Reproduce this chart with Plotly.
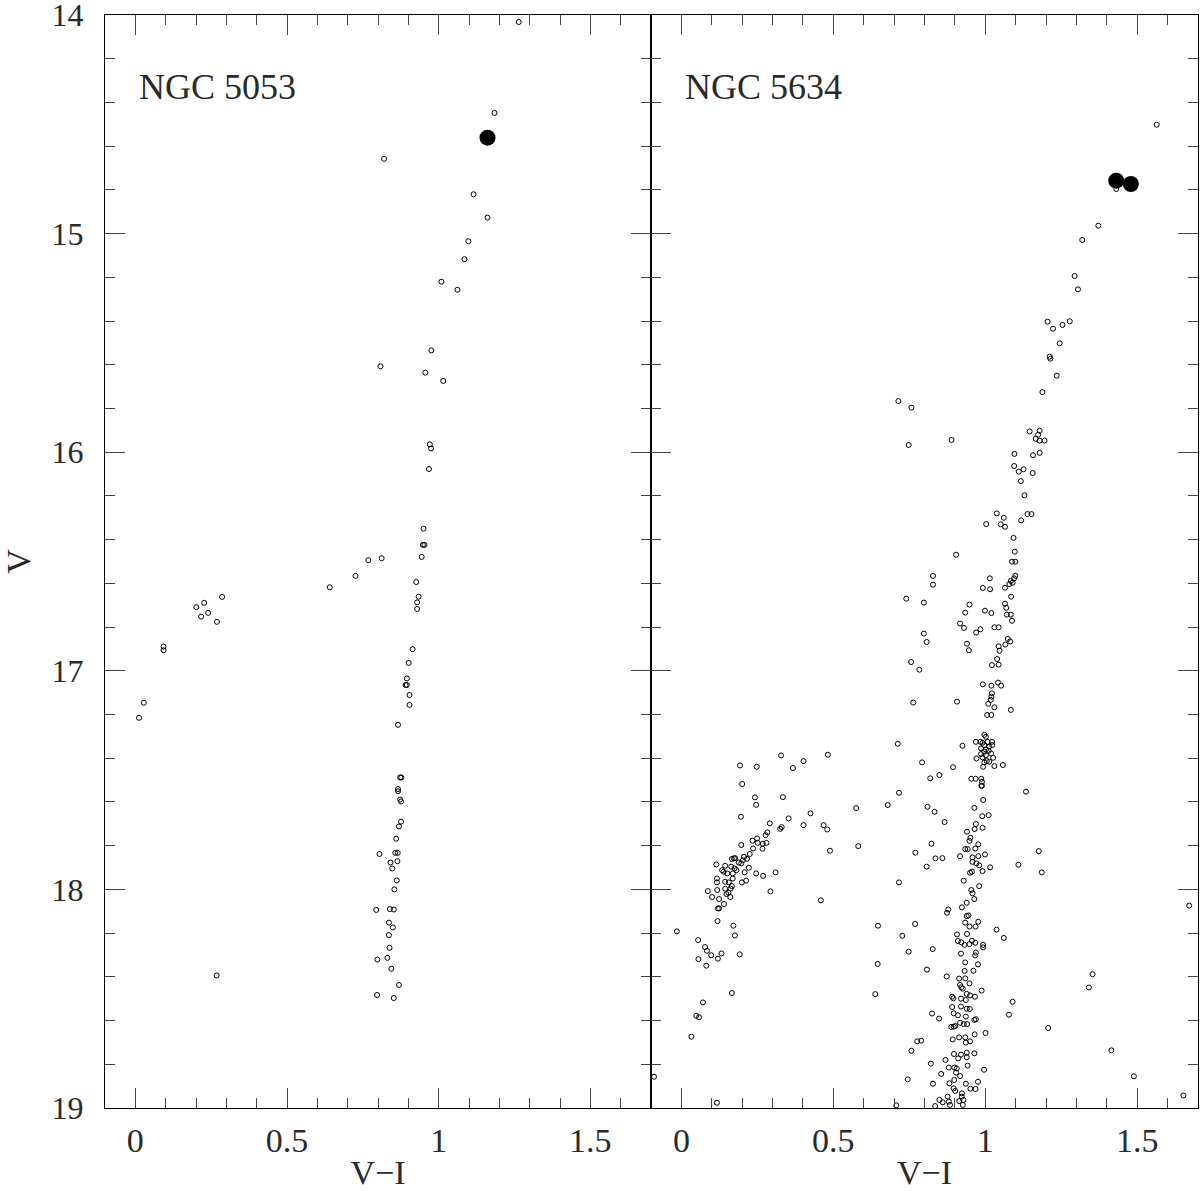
import plotly.graph_objects as go

# ---------------- NGC 5053 (left panel) ----------------
ngc5053_vi = [1.264, 1.184, 0.820, 1.115, 1.161, 1.098, 1.085, 1.009, 1.062, 0.976,
              0.808, 0.956, 1.015, 0.971, 0.975, 0.968, 0.950, 0.948, 0.953, 0.944,
              0.768, 0.812,
              0.726, 0.641, 0.286, 0.201, 0.227, 0.217, 0.240, 0.269, 0.093, 0.093,
              0.028, 0.012, 0.926, 0.934, 0.929, 0.929, 0.914, 0.901, 0.895, 0.891,
              0.895, 0.904, 0.904, 0.866, 0.873, 0.877, 0.866, 0.866, 0.873, 0.876,
              0.876, 0.869, 0.860, 0.805, 0.857, 0.865, 0.841, 0.864, 0.847, 0.862,
              0.854, 0.794, 0.839, 0.852, 0.836, 0.849, 0.836, 0.838, 0.798, 0.831,
              0.844, 0.268, 0.869, 0.797, 0.852]
ngc5053_v = [14.032, 14.448, 14.658, 14.820, 14.927, 15.035, 15.117, 15.220, 15.257, 15.534,
             15.607, 15.636, 15.674, 15.964, 15.983, 16.077, 16.350, 16.424, 16.424, 16.479,
             16.494, 16.485,
             16.566, 16.618, 16.662, 16.709, 16.689, 16.752, 16.735, 16.776, 16.889, 16.906,
             17.146, 17.215, 16.594, 16.661, 16.687, 16.717, 16.901, 16.964, 17.035, 17.065,
             17.065, 17.111, 17.156, 17.247, 17.488, 17.488, 17.541, 17.551, 17.589, 17.598,
             17.690, 17.712, 17.768, 17.838, 17.833, 17.833, 17.877, 17.871, 17.904, 17.959,
             18.000, 18.094, 18.090, 18.092, 18.152, 18.174, 18.209, 18.267, 18.321, 18.313,
             18.363, 18.394, 18.437, 18.483, 18.497]
ngc5053_var_vi = [1.161]
ngc5053_var_v = [14.561]

# ---------------- NGC 5634 (right panel) ----------------
ngc5634_tip_vi = [1.564, 1.431, 1.372, 1.319, 1.294, 1.305, 1.205, 1.223, 1.254, 1.278,
                  1.245, 1.212, 1.214, 1.235, 1.188, 0.714, 0.757, 1.146, 1.179]
ngc5634_tip_v = [14.502, 14.796, 14.964, 15.029, 15.194, 15.255, 15.403, 15.435, 15.418, 15.401,
                 15.502, 15.563, 15.572, 15.650, 15.725, 15.766, 15.796, 15.905, 15.902]

ngc5634_rgb_vi = [1.174, 1.166, 1.179, 1.195, 1.179, 1.157, 1.096, 0.748, 0.889, 1.095,
                  1.110, 1.126, 1.156, 1.117, 1.129, 1.139, 1.152, 1.038, 1.061, 1.003,
                  1.051, 1.065, 1.118, 1.093, 1.097, 1.088, 1.099, 0.904, 1.099, 1.095,
                  1.084, 1.090, 1.079, 1.015, 0.992, 1.016, 1.065, 0.828, 0.828, 0.740,
                  0.798, 1.085, 0.948, 0.934, 0.999, 1.020, 1.065, 1.069, 1.071, 1.084,
                  1.088, 0.917, 0.930, 0.970, 0.984, 1.030, 1.044, 0.798, 0.807, 0.940,
                  0.946, 1.074, 1.066, 1.082, 1.044, 1.047, 0.756, 0.783, 1.039, 1.022,
                  1.044, 0.992, 1.020, 1.042, 1.052, 1.022, 1.020, 1.018, 1.010, 1.030,
                  0.763, 0.907, 1.084, 1.006, 1.020]
ngc5634_rgb_v = [15.920, 15.939, 15.947, 15.947, 16.003, 16.014, 16.008, 15.967, 15.944, 16.063,
                 16.089, 16.078, 16.095, 16.132, 16.197, 16.283, 16.283, 16.280, 16.300, 16.329,
                 16.330, 16.341, 16.312, 16.392, 16.455, 16.501, 16.501, 16.469, 16.565, 16.577,
                 16.589, 16.597, 16.603, 16.577, 16.621, 16.627, 16.620, 16.566, 16.606, 16.670,
                 16.688, 16.661, 16.697, 16.734, 16.725, 16.736, 16.693, 16.712, 16.743, 16.743,
                 16.771, 16.784, 16.804, 16.825, 16.810, 16.801, 16.801, 16.830, 16.868, 16.876,
                 16.906, 16.854, 16.880, 16.866, 16.888, 16.908, 16.960, 16.995, 16.946, 16.974,
                 16.972, 17.062, 17.068, 17.054, 17.068, 17.103, 17.118, 17.133, 17.151, 17.167,
                 17.145, 17.141, 17.179, 17.202, 17.202]

ngc5634_mid_vi = [0.997, 1.002, 0.969, 0.984, 0.991, 1.008, 1.022, 0.997, 1.013, 1.023,
                  0.986, 1.002, 0.997, 1.011, 1.019, 0.986, 1.002, 0.991, 1.026, 0.971,
                  1.005, 0.997, 1.013, 0.993, 1.030, 1.058, 0.712, 0.925, 0.792, 0.894,
                  0.819, 0.849, 0.954, 0.968, 0.987, 0.989, 0.987, 0.989, 0.716, 1.134,
                  0.679, 0.810, 0.833, 0.993, 0.964, 0.990, 1.011, 0.866, 0.969, 0.965,
                  0.991, 0.940, 0.951, 0.948, 0.977, 0.823, 0.770, 0.836, 0.859, 0.807,
                  0.934, 0.942, 0.967, 0.917, 0.958, 0.977, 0.999, 0.958, 0.971, 0.980,
                  0.991, 1.016, 0.950, 0.956, 0.929, 0.980, 0.954, 0.958, 0.964, 0.939,
                  0.923, 0.878, 0.874, 0.939, 0.945, 1.109, 1.176, 1.186, 0.716]
ngc5634_mid_v = [17.293, 17.302, 17.325, 17.325, 17.329, 17.325, 17.325, 17.340, 17.347, 17.340,
                 17.355, 17.360, 17.370, 17.366, 17.378, 17.381, 17.386, 17.396, 17.398, 17.401,
                 17.413, 17.419, 17.416, 17.439, 17.436, 17.431, 17.334, 17.343, 17.419, 17.441,
                 17.492, 17.477, 17.494, 17.494, 17.494, 17.508, 17.526, 17.526, 17.558, 17.553,
                 17.614, 17.622, 17.645, 17.591, 17.627, 17.665, 17.660, 17.692, 17.701, 17.724,
                 17.718, 17.736, 17.764, 17.778, 17.794, 17.791, 17.832, 17.858, 17.857, 17.896,
                 17.816, 17.816, 17.813, 17.848, 17.854, 17.848, 17.840, 17.874, 17.881, 17.890,
                 17.916, 17.899, 17.924, 17.919, 17.960, 17.985, 18.003, 18.018, 18.044, 18.061,
                 18.082, 18.092, 18.107, 18.122, 18.119, 17.887, 17.825, 17.922, 17.968]

ngc5634_hb_vi = [0.328, 0.482, 0.193, 0.248, 0.367, 0.402, 0.200, 0.242, 0.246, 0.334,
                 0.575, 0.196, 0.291, 0.353, 0.425, 0.402, 0.468, 0.480, 0.325, 0.330,
                 0.277, 0.283, 0.197, 0.234, 0.249, 0.251, 0.268, 0.280, 0.267, 0.236,
                 0.225, 0.206, 0.216, 0.202, 0.173, 0.177, 0.166, 0.189, 0.197, 0.115,
                 0.164, 0.144, 0.134, 0.139, 0.151, 0.175, 0.169, 0.181, 0.208, 0.222,
                 0.246, 0.269, 0.310, 0.117, 0.117, 0.144, 0.156, 0.169, 0.199, 0.213,
                 0.166, 0.162, 0.118, 0.087, 0.144, 0.155, 0.148, 0.161, 0.101, 0.293,
                 0.124, 0.140, 0.120, 0.124, 0.459, 0.119, 0.171, 0.176, -0.015, 0.055,
                 0.078, 0.084, 0.098, 0.132, 0.120, 0.056, 0.082, 0.192, 0.166, 0.582,
                 0.489, 0.071, 0.049, 0.058, 0.033, -0.090, 0.117]
ngc5634_hb_v = [17.387, 17.384, 17.433, 17.439, 17.445, 17.413, 17.518, 17.579, 17.613, 17.578,
                17.628, 17.668, 17.698, 17.675, 17.652, 17.706, 17.706, 17.726, 17.723, 17.715,
                17.752, 17.739, 17.797, 17.777, 17.767, 17.787, 17.791, 17.787, 17.814, 17.813,
                17.838, 17.851, 17.860, 17.867, 17.858, 17.857, 17.861, 17.877, 17.881, 17.886,
                17.896, 17.892, 17.912, 17.919, 17.927, 17.904, 17.927, 17.912, 17.922, 17.901,
                17.927, 17.938, 17.922, 17.950, 17.968, 17.965, 17.968, 17.950, 17.968, 17.960,
                17.985, 17.996, 18.003, 18.008, 17.997, 18.015, 18.021, 18.035, 18.035, 18.009,
                18.044, 18.067, 18.087, 18.087, 18.050, 18.145, 18.166, 18.211, 18.192, 18.232,
                18.264, 18.281, 18.301, 18.293, 18.317, 18.319, 18.349, 18.297, 18.474, 17.802,
                17.823, 18.517, 18.578, 18.585, 18.674, 18.857, 18.976]

ngc5634_low_vi = [0.647, 0.769, 0.727, 0.748, 0.827, 0.646, 0.808, 0.638, 0.873, 0.825,
                  0.848, 0.776, 0.789, 0.757, 0.821, 0.745, 0.828, 0.707, 1.037, 1.061,
                  1.090, 1.078, 1.207, 1.001, 0.996, 0.934, 0.948, 0.968, 0.977, 0.907,
                  0.940, 0.910, 0.921, 0.956, 0.967, 0.932, 0.948, 0.993, 0.993, 0.920,
                  0.969, 0.967, 0.934, 0.976, 0.932, 0.961, 0.914, 0.934, 0.948, 0.917,
                  0.921, 0.926, 0.988, 0.891, 0.895, 0.939, 0.950, 0.966, 0.920, 0.936,
                  0.891, 0.920, 0.939, 0.949, 0.896, 0.910, 0.936, 0.969, 0.964, 0.917,
                  0.929, 0.940, 0.896, 0.888, 0.901, 0.965, 0.914, 0.934, 0.893, 0.936,
                  0.950, 0.897, 0.920, 0.939, 0.964, 0.911, 0.939, 0.869, 0.942, 0.880,
                  0.898, 0.906, 0.904, 0.917, 0.855, 0.898, 0.882, 0.936, 0.976, 0.896,
                  0.951, 0.968, 0.901, 0.876, 0.923, 0.923, 0.849, 0.860, 0.880, 0.884,
                  0.914, 0.928, 0.926, 0.835, 1.671, 1.353, 1.341, 1.415, 1.489, 1.652]
ngc5634_low_v = [18.166, 18.158, 18.212, 18.285, 18.273, 18.341, 18.367, 18.479, 18.398, 18.568,
                 18.591, 18.695, 18.692, 18.738, 18.797, 18.869, 18.889, 18.988, 18.184, 18.222,
                 18.514, 18.573, 18.634, 18.657, 18.825, 18.152, 18.170, 18.170, 18.148, 18.206,
                 18.204, 18.236, 18.242, 18.235, 18.244, 18.254, 18.250, 18.254, 18.265, 18.294,
                 18.289, 18.302, 18.334, 18.343, 18.373, 18.372, 18.408, 18.407, 18.430, 18.437,
                 18.448, 18.454, 18.463, 18.491, 18.498, 18.478, 18.485, 18.491, 18.500, 18.506,
                 18.538, 18.536, 18.546, 18.547, 18.567, 18.576, 18.582, 18.594, 18.597, 18.610,
                 18.616, 18.616, 18.628, 18.629, 18.625, 18.663, 18.677, 18.677, 18.686, 18.701,
                 18.695, 18.753, 18.756, 18.747, 18.750, 18.773, 18.768, 18.780, 18.806, 18.815,
                 18.815, 18.819, 18.838, 18.854, 18.844, 18.872, 18.887, 18.889, 18.880, 18.910,
                 18.912, 18.913, 18.922, 18.948, 18.933, 18.948, 18.963, 18.974, 18.971, 18.986,
                 18.968, 18.963, 18.986, 18.991, 18.074, 18.388, 18.449, 18.736, 18.855, 18.943]

ngc5634_var_vi = [1.431, 1.479]
ngc5634_var_v = [14.758, 14.773]

panel_labels = ["NGC 5053", "NGC 5634"]
x_ticks = [0, 0.5, 1, 1.5]
x_ticktext = ["0", "0.5", "1", "1.5"]
y_ticks = [14, 15, 16, 17, 18, 19]

ngc5634_vi = ngc5634_tip_vi + ngc5634_rgb_vi + ngc5634_mid_vi + ngc5634_hb_vi + ngc5634_low_vi
ngc5634_v = ngc5634_tip_v + ngc5634_rgb_v + ngc5634_mid_v + ngc5634_hb_v + ngc5634_low_v

FONT = "Liberation Serif"
TXT = "#2a2a2a"
open_marker = dict(symbol="circle-open", size=5, color="black", line=dict(width=1, color="black"))
fill_marker = dict(symbol="circle", size=16, color="black")

fig = go.Figure()
fig.add_trace(go.Scatter(x=ngc5053_vi, y=ngc5053_v, mode="markers", marker=open_marker,
                         xaxis="x", yaxis="y", showlegend=False))
fig.add_trace(go.Scatter(x=ngc5053_var_vi, y=ngc5053_var_v, mode="markers", marker=fill_marker,
                         xaxis="x", yaxis="y", showlegend=False))
fig.add_trace(go.Scatter(x=ngc5634_vi, y=ngc5634_v, mode="markers", marker=open_marker,
                         xaxis="x2", yaxis="y2", showlegend=False))
fig.add_trace(go.Scatter(x=ngc5634_var_vi, y=ngc5634_var_v, mode="markers", marker=fill_marker,
                         xaxis="x2", yaxis="y2", showlegend=False))

split = 546 / 1093

common_x = dict(range=[-0.1, 1.7], tickvals=x_ticks, ticktext=x_ticktext,
                ticks="inside", ticklen=20, tickwidth=1, tickcolor="#444",
                minor=dict(dtick=0.1, tick0=0, ticks="inside", ticklen=10, tickwidth=1, tickcolor="#444"),
                showline=True, linecolor="black", linewidth=1, mirror="allticks",
                showgrid=False, zeroline=False, automargin=False,
                tickfont=dict(family=FONT, size=34, color=TXT),
                ticklabelstandoff=2,
                title=dict(text="V\u2212I", font=dict(family=FONT, size=34, color=TXT), standoff=16))
common_y = dict(range=[19, 14], tickvals=y_ticks,
                ticks="inside", ticklen=20, tickwidth=1, tickcolor="#444",
                minor=dict(dtick=0.2, tick0=14, ticks="inside", ticklen=10, tickwidth=1, tickcolor="#444"),
                showline=True, linecolor="black", linewidth=1, mirror="allticks",
                showgrid=False, zeroline=False, ticklabeloverflow="allow", automargin=False,
                tickfont=dict(family=FONT, size=32, color=TXT))

fig.update_layout(
    width=1200, height=1191,
    margin=dict(l=105, r=2, t=15, b=83, autoexpand=False),
    paper_bgcolor="white", plot_bgcolor="white",
    xaxis=dict(domain=[0, split], anchor="y", **common_x),
    xaxis2=dict(domain=[split, 1], anchor="y2", **common_x),
    yaxis=dict(domain=[0, 1], anchor="x", ticklabelstandoff=14,
               title=dict(text="V", font=dict(family=FONT, size=34, color=TXT), standoff=22),
               **common_y),
    yaxis2=dict(domain=[0, 1], anchor="x2", matches="y", showticklabels=False, **common_y),
)

fig.add_annotation(x=0.005, y=14.33, xref="x", yref="y", text=panel_labels[0], showarrow=False,
                   xanchor="left", yanchor="middle", font=dict(family=FONT, size=36, color=TXT))
fig.add_annotation(x=0.005, y=14.33, xref="x2", yref="y2", text=panel_labels[1], showarrow=False,
                   xanchor="left", yanchor="middle", font=dict(family=FONT, size=36, color=TXT))

fig.write_html("out.html", config={"displayModeBar": False},
               post_script="document.body.style.margin='0';document.body.style.overflow='hidden';")
